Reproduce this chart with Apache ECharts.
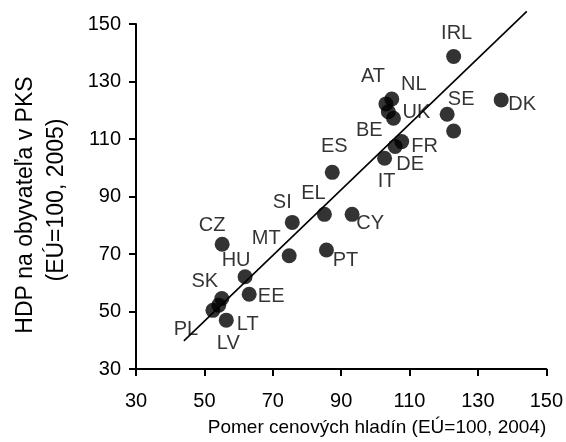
<!DOCTYPE html>
<html>
<head>
<meta charset="utf-8">
<script src="https://cdn.jsdelivr.net/npm/echarts@6/dist/echarts.min.js"></script>
<style>html,body{margin:0;padding:0;background:#fff}#c{width:566px;height:442px}</style>
</head>
<body>
<div id="c"></div>
<script>
const countries  = ['IRL','DK','SE','FI','AT','NL','UK','BE','FR','DE','IT','ES','EL','CY','PT','SI','MT','CZ','HU','EE','SK','LT','PL','LV'];
const priceLevel = [122.9,136.8,121.0,122.9,103.1,104.8,105.3,103.8,107.7,105.8,102.7,87.4,85.1,93.2,85.7,75.7,74.8,55.2,61.9,63.1,55.1,54.2,52.5,56.4];
const gdpPerCap  = [138.7,123.6,118.6,112.8,122.2,123.9,117.2,119.5,109.1,107.4,103.3,98.4,83.8,83.8,71.4,81.0,69.4,73.4,62.1,56.0,54.5,52.2,50.4,47.0];
const pointLabels = ['IRL','DK','SE','','AT','NL','UK','BE','FR','DE','IT','ES','EL','CY','PT','SI','MT','CZ','HU','EE','SK','LT','PL','LV'];
const trendX = [44, 144.3];
const trendY = [39.8, 154.4];
const xTicks = [30,50,70,90,110,130,150];
const yTicks = [30,50,70,90,110,130,150];

const labelOffset = {
  IRL:[3,-23], DK:[21,5], SE:[14,-15], AT:[-13,-27], NL:[22,-15], UK:[23,-6], BE:[-19,19],
  FR:[23,5], DE:[15,18], IT:[2,23], ES:[2,-26], EL:[-11,-21], CY:[18,9], PT:[19,11],
  SI:[-10,-20], MT:[-23,-17], CZ:[-10,-19], HU:[-9,-16], EE:[22,2], SK:[-17,-17],
  LT:[29,19], PL:[-27,19], LV:[2,23]
};

const FONT = 'Liberation Sans, Arial, sans-serif';
const scatterData = countries.map((c,i) => {
  const lab = pointLabels[i];
  return {
    name: c,
    value: [priceLevel[i], gdpPerCap[i]],
    label: lab ? {show:true, formatter: lab, position:'inside', offset: labelOffset[lab],
                  align:'center', verticalAlign:'middle', color:'#000', fontSize:20, fontFamily:FONT}
               : {show:false}
  };
});

const chart = echarts.init(document.getElementById('c'), null, {renderer:'canvas'});
const axisCommon = {
  type:'value', interval: 20,
  axisLine:{show:true, onZero:false, lineStyle:{color:'#000', width:2}},
  axisTick:{show:true, inside:false, length:7, lineStyle:{color:'#000', width:2}},
  splitLine:{show:false},
  axisLabel:{color:'#000', fontSize:20, fontFamily:FONT}
};
chart.setOption({
  animation:false,
  backgroundColor:'#fff',
  grid:{left:136, right:17, top:24, bottom:73, containLabel:false},
  xAxis: Object.assign({}, axisCommon, {min:xTicks[0], max:xTicks[xTicks.length-1],
    axisLabel:Object.assign({}, axisCommon.axisLabel, {margin:22})}),
  yAxis: Object.assign({}, axisCommon, {min:yTicks[0], max:yTicks[yTicks.length-1],
    axisLabel:Object.assign({}, axisCommon.axisLabel, {margin:15})}),
  graphic:[
    {type:'text', x:26, y:205, rotation:Math.PI/2,
     style:{text:'HDP na obyvateľa v PKS', font:'23px '+FONT, fill:'#000', align:'center', verticalAlign:'middle'}},
    {type:'text', x:57, y:200, rotation:Math.PI/2,
     style:{text:'(EÚ=100, 2005)', font:'23px '+FONT, fill:'#000', align:'center', verticalAlign:'middle'}},
    {type:'text', x:377, y:428,
     style:{text:'Pomer cenových hladín (EÚ=100, 2004)', font:'19px '+FONT, fill:'#000', align:'center', verticalAlign:'middle'}}
  ],
  series:[
    {type:'line', data: trendX.map((x,i)=>[x,trendY[i]]), clip:false, symbol:'none',
     lineStyle:{color:'#000', width:1.6}, z:2, silent:true},
    {type:'scatter', data: scatterData, symbol:'circle', symbolSize:15,
     itemStyle:{color:'#000'}, z:3}
  ]
});
</script>
</body>
</html>
